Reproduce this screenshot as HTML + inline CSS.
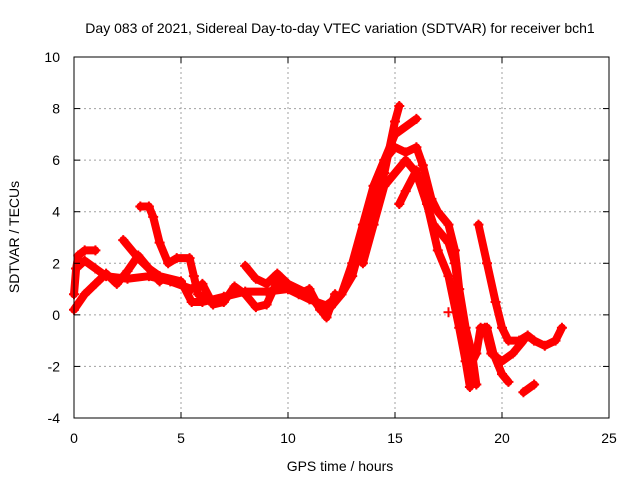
<!DOCTYPE html>
<html><head><meta charset="utf-8"><style>
body{margin:0;background:#fff}
svg{display:block;font-family:"Liberation Sans",sans-serif;font-size:14px}
</style></head><body>
<svg id="chart" width="640" height="480">
<rect width="640" height="480" fill="#fff"/>
<text x="340" y="33" text-anchor="middle">Day 083 of 2021, Sidereal Day-to-day VTEC variation (SDTVAR) for receiver bch1</text>
<g id="grid"></g>
<g id="series"></g>
<g id="axes"></g>
<text x="340" y="471" text-anchor="middle">GPS time / hours</text>
<text transform="translate(19,237) rotate(-90)" text-anchor="middle">SDTVAR / TECUs</text>
</svg>
<script>
const xTicks=[0,5,10,15,20,25];
const yTicks=[-4,-2,0,2,4,6,8,10];
const trackA=[[0,0.8],[0.1,1.8],[0.2,2.3],[0.5,2.5],[1.0,2.5]];
const trackB=[[0.1,1.8],[0.5,2.1],[1.0,1.8],[1.5,1.5],[2.5,1.4],[3.5,1.5],[4.5,1.3],[5.5,1.0]];
const trackC=[[0,0.2],[0.5,0.8],[1.0,1.2],[1.5,1.6],[2.0,1.2],[2.5,1.7],[3.0,2.3],[3.5,1.8],[4.0,1.3]];
const trackD=[[3.1,4.2],[3.5,4.2],[3.7,3.8],[4.0,2.8],[4.4,2.0],[4.8,2.2],[5.4,2.2],[5.6,1.5],[5.8,0.8],[6.2,0.6]];
const trackE=[[2.3,2.9],[3.0,2.2],[3.5,1.8],[4.0,1.5],[5.0,1.3],[5.5,0.5],[6.0,0.5],[7.0,0.7],[8.0,0.9],[9.0,0.9],[10.0,1.0],[11.0,0.6],[12.0,0.3],[12.5,0.8],[13.0,1.5],[13.5,3.0],[14.0,4.5],[14.5,5.5],[15.0,7.5],[15.2,8.1]];
const trackF=[[6.0,1.2],[6.5,0.4],[7.0,0.5],[7.5,1.1],[8.0,0.8],[8.5,0.3],[9.0,0.4],[9.5,1.3],[10.0,1.0],[10.5,0.8],[11.0,1.0],[11.5,0.2],[12.0,0.5],[12.5,0.8],[13.0,2.0],[13.5,3.5],[14.0,5.0],[14.5,6.0],[15.0,6.5],[15.5,6.3],[16.0,6.5],[16.3,5.8],[16.7,4.5],[17.0,4.0],[17.5,3.5],[17.8,2.5],[18.0,1.0],[18.3,-0.5],[18.6,-1.5],[18.8,-2.7]];
const trackG=[[8.0,1.9],[8.5,1.4],[9.0,1.2],[9.5,1.6],[10.0,1.2],[11.0,0.8],[11.8,-0.1],[12.2,0.8]];
const trackH=[[13.5,2.0],[14.0,3.5],[14.5,5.0],[15.5,6.0],[16.0,5.5],[16.5,4.3],[17.0,2.5],[17.5,1.5],[18.0,-0.5],[18.3,-1.8],[18.5,-2.8]];
const trackH2=[[14.0,5.0],[15.0,7.0],[16.0,7.6]];
const trackI=[[15.2,4.3],[15.5,4.8],[16.0,5.6]];
const trackJ=[[16.0,5.5],[16.8,3.5],[17.5,2.8],[17.8,2.0],[18.2,-0.5],[18.5,-2.0],[18.8,-1.5],[19.0,-0.5],[19.3,-0.5],[19.6,-1.5],[20.0,-2.3],[20.3,-2.6]];
const trackK=[[18.9,3.5],[19.3,2.0],[19.7,0.5],[20.0,-0.5],[20.3,-1.0],[20.8,-1.0],[21.2,-0.8],[21.5,-1.0],[22.0,-1.2],[22.5,-1.0],[22.8,-0.5]];
const trackL=[[19.2,-0.5],[19.5,-1.5],[20.0,-1.8],[20.5,-1.5],[21.0,-1.0]];
const trackM=[[21.0,-3.0],[21.5,-2.7]];
const trackN=[[17.5,0.1]];
const tracks=[trackA,trackB,trackC,trackD,trackE,trackF,trackG,trackH,trackH2,trackI,trackJ,trackK,trackL,trackM,trackN];

const L=74,R=609,T=57,B=418,xMin=0,xMax=25,yMin=-4,yMax=10;
const sx=v=>L+(v-xMin)/(xMax-xMin)*(R-L);
const sy=v=>B-(v-yMin)/(yMax-yMin)*(B-T);
const NS='http://www.w3.org/2000/svg';
function mk(tag,attrs,parent){const e=document.createElementNS(NS,tag);for(const k in attrs)e.setAttribute(k,attrs[k]);parent.appendChild(e);return e;}
const grid=document.getElementById('grid'),axes=document.getElementById('axes'),ser=document.getElementById('series');
xTicks.forEach(t=>{
  if(t>xMin&&t<xMax){const g=mk('line',{x1:sx(t),x2:sx(t),y1:T,y2:B,stroke:'#a0a0a0','stroke-dasharray':'2,3'},grid);
  
  }
  mk('line',{x1:sx(t),x2:sx(t),y1:B,y2:B-6,stroke:'#000'},axes);
  mk('line',{x1:sx(t),x2:sx(t),y1:T,y2:T+6,stroke:'#000'},axes);
  const tx=mk('text',{x:sx(t),y:B+25,'text-anchor':'middle'},axes);tx.textContent=t;
  
  
});
yTicks.forEach(t=>{
  if(t>yMin&&t<yMax){const g=mk('line',{x1:L,x2:R,y1:sy(t),y2:sy(t),stroke:'#a0a0a0','stroke-dasharray':'2,3'},grid);
  
  }
  mk('line',{x1:L,x2:L+6,y1:sy(t),y2:sy(t),stroke:'#000'},axes);
  mk('line',{x1:R,x2:R-6,y1:sy(t),y2:sy(t),stroke:'#000'},axes);
  const tx=mk('text',{x:L-14,y:sy(t)+5,'text-anchor':'end'},axes);tx.textContent=t;
  
  
});
mk('rect',{x:L,y:T,width:R-L,height:B-T,fill:'none',stroke:'#000'},axes);
tracks.forEach(tr=>{
  const pts=tr.map(p=>sx(p[0])+','+sy(p[1])).join(' ');
  const pl=mk('polyline',{points:pts,fill:'none',stroke:'#ff0000','stroke-width':8,'stroke-linejoin':'round','stroke-linecap':'round'},ser);
  
  
  tr.forEach(p=>{
    const x=sx(p[0]),y=sy(p[1]);
    const m=mk('path',{d:`M${x-5},${y}H${x+5}M${x},${y-5}V${y+5}`,stroke:'#ff0000','stroke-width':2},ser);
    
    
  });
});
</script>
</body></html>
